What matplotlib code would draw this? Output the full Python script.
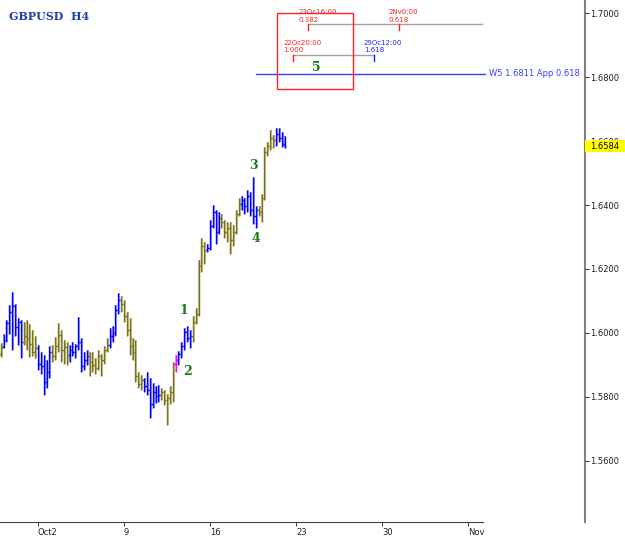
import matplotlib
matplotlib.use("Agg")
import matplotlib.pyplot as plt
from matplotlib.patches import Rectangle
from matplotlib.transforms import blended_transform_factory


# H4 bars, GBPUSD
OPENS = [
    1.5934, 1.5956, 1.5978, 1.6031, 1.6066, 1.6084, 1.6019, 1.6034, 1.5972, 1.5991,
    1.5984, 1.5966, 1.5941, 1.5953, 1.5903, 1.5897, 1.5847, 1.5878, 1.5941, 1.5928,
    1.5959, 1.5994, 1.5947, 1.5956, 1.5931, 1.5947, 1.5941, 1.5959, 1.5972, 1.5897,
    1.5916, 1.5928, 1.5909, 1.5900, 1.5891, 1.5928, 1.5916, 1.5947, 1.5962, 1.5991,
    1.6000, 1.6072, 1.6103, 1.6091, 1.6053, 1.6009, 1.5959, 1.5941, 1.5866, 1.5841,
    1.5853, 1.5834, 1.5822, 1.5778, 1.5816, 1.5803, 1.5806, 1.5816, 1.5791, 1.5797,
    1.5816, 1.5903, 1.5916, 1.5934, 1.5959, 1.6003, 1.5984, 1.5991, 1.6034, 1.6059,
    1.6209, 1.6272, 1.6259, 1.6266, 1.6334, 1.6378, 1.6316, 1.6359, 1.6347, 1.6316,
    1.6328, 1.6291, 1.6316, 1.6372, 1.6403, 1.6416, 1.6397, 1.6428, 1.6384, 1.6366,
    1.6384, 1.6378, 1.6422, 1.6566, 1.6584, 1.6609, 1.6603, 1.6622, 1.6609, 1.6591,
]
HIGHS = [
    1.5969, 1.5997, 1.6041, 1.6087, 1.6128, 1.6091, 1.6047, 1.6041, 1.6034, 1.6041,
    1.6028, 1.6009, 1.5991, 1.5962, 1.5941, 1.5931, 1.5916, 1.5959, 1.5962, 1.5987,
    1.6031, 1.6009, 1.5978, 1.5972, 1.5962, 1.5972, 1.5966, 1.6050, 1.5984, 1.5941,
    1.5947, 1.5941, 1.5941, 1.5922, 1.5947, 1.5934, 1.5959, 1.5984, 1.6016, 1.6022,
    1.6087, 1.6125, 1.6116, 1.6103, 1.6066, 1.6047, 1.5984, 1.5978, 1.5878, 1.5869,
    1.5859, 1.5878, 1.5859, 1.5844, 1.5834, 1.5837, 1.5828, 1.5822, 1.5809, 1.5834,
    1.5909, 1.5931, 1.5944, 1.5972, 1.6016, 1.6022, 1.6009, 1.6053, 1.6078, 1.6228,
    1.6297, 1.6284, 1.6278, 1.6353, 1.6400, 1.6384, 1.6378, 1.6372, 1.6353, 1.6347,
    1.6347, 1.6337, 1.6384, 1.6422, 1.6428, 1.6422, 1.6447, 1.6441, 1.6487, 1.6397,
    1.6397, 1.6434, 1.6581, 1.6597, 1.6634, 1.6619, 1.6641, 1.6641, 1.6628, 1.6616,
]
LOWS = [
    1.5925, 1.5953, 1.5972, 1.5997, 1.5947, 1.5991, 1.5962, 1.5922, 1.5962, 1.5947,
    1.5925, 1.5928, 1.5922, 1.5884, 1.5872, 1.5806, 1.5828, 1.5859, 1.5909, 1.5916,
    1.5941, 1.5909, 1.5903, 1.5900, 1.5909, 1.5928, 1.5922, 1.5947, 1.5878, 1.5884,
    1.5900, 1.5866, 1.5878, 1.5872, 1.5884, 1.5866, 1.5903, 1.5941, 1.5953, 1.5972,
    1.5991, 1.6059, 1.6066, 1.6034, 1.5991, 1.5931, 1.5916, 1.5847, 1.5828, 1.5822,
    1.5816, 1.5806, 1.5734, 1.5766, 1.5781, 1.5784, 1.5791, 1.5775, 1.5712, 1.5778,
    1.5784, 1.5878, 1.5900, 1.5922, 1.5947, 1.5972, 1.5953, 1.5972, 1.6028, 1.6053,
    1.6191, 1.6216, 1.6253, 1.6259, 1.6328, 1.6278, 1.6309, 1.6328, 1.6297, 1.6284,
    1.6247, 1.6272, 1.6309, 1.6366, 1.6384, 1.6372, 1.6378, 1.6366, 1.6341, 1.6328,
    1.6366, 1.6347, 1.6416, 1.6553, 1.6572, 1.6578, 1.6584, 1.6597, 1.6581, 1.6578,
]
CLOSES = [
    1.5956, 1.5978, 1.6031, 1.6066, 1.6084, 1.6019, 1.6034, 1.5972, 1.5991, 1.5984,
    1.5966, 1.5941, 1.5953, 1.5903, 1.5897, 1.5847, 1.5878, 1.5941, 1.5928, 1.5959,
    1.5994, 1.5947, 1.5956, 1.5931, 1.5947, 1.5941, 1.5959, 1.5972, 1.5897, 1.5916,
    1.5928, 1.5909, 1.5900, 1.5891, 1.5928, 1.5916, 1.5947, 1.5962, 1.5991, 1.6000,
    1.6072, 1.6103, 1.6091, 1.6053, 1.6009, 1.5959, 1.5941, 1.5866, 1.5841, 1.5853,
    1.5834, 1.5822, 1.5778, 1.5816, 1.5803, 1.5806, 1.5816, 1.5791, 1.5797, 1.5816,
    1.5903, 1.5916, 1.5934, 1.5959, 1.6003, 1.5984, 1.5991, 1.6034, 1.6059, 1.6209,
    1.6272, 1.6259, 1.6266, 1.6334, 1.6378, 1.6316, 1.6359, 1.6347, 1.6316, 1.6328,
    1.6291, 1.6316, 1.6372, 1.6403, 1.6416, 1.6397, 1.6428, 1.6384, 1.6366, 1.6384,
    1.6378, 1.6422, 1.6566, 1.6584, 1.6609, 1.6603, 1.6622, 1.6609, 1.6591, 1.6584,
]
# bar colour state: o = olive, b = blue, m = magenta
STATES = (
    "obbbbbbboo" "ooobbbbboo" "oooobbbbbb" "booooooobb" "bboooooooo"
    "bbbbbboooo" "ombbbbbooo" "oobbbbbooo" "oooobbbbbb" "oooooobbbb"
)

DATE_TICKS = [13, 43, 73, 103, 133, 163]
DATE_LABELS = ["Oct2", "9", "16", "23", "30", "Nov"]
PRICE_TICKS = [1.56, 1.58, 1.60, 1.62, 1.64, 1.66, 1.68, 1.70]
LAST_PRICE = 1.6584

WAVE_LABELS = ["1", "2", "3", "4", "5"]
WAVE_X = [63.9, 65.0, 88.0, 89.0, 110.0]
WAVE_Y = [1.6069, 1.5878, 1.6525, 1.6294, 1.6831]

W5_PRICE = 1.6811

DARK = {"b": "#0000ff", "o": "#7a7418", "m": "#ff00ff"}
LIGHT = {"b": "#8c8cff", "o": "#bfb88c", "m": "#ff8cff"}
GREEN = "#1d7a1d"


def draw_bars(ax):
    xs = list(range(len(OPENS)))
    light = [LIGHT[s] for s in STATES]
    dark = [DARK[s] for s in STATES]
    ax.vlines([x + 0.3 for x in xs], LOWS, HIGHS, colors=light, lw=1.3, zorder=2)
    ax.vlines(xs, LOWS, HIGHS, colors=dark, lw=1.0, zorder=3)
    ax.hlines(OPENS, [x - 0.5 for x in xs], xs, colors=dark, lw=1.0, zorder=3)
    ax.hlines(CLOSES, xs, [x + 0.5 for x in xs], colors=dark, lw=1.0, zorder=3)


def draw_fibo(ax):
    small = dict(fontsize=5.0, family="DejaVu Sans", va="center", ha="left")
    ax.add_patch(Rectangle((96.4, 1.6763), 26.5, 0.0237, fill=False,
                           ec="#ff2020", lw=1.0, zorder=4))
    ax.plot([107.2, 167.9], [1.6966, 1.6966], color="#a0a0a0", lw=1.0)
    ax.plot([107.2, 107.2], [1.6966, 1.6946], color="#ff2020", lw=1.0)
    ax.plot([138.9, 138.9], [1.6966, 1.6946], color="#ff2020", lw=1.0)
    ax.text(103.7, 1.7004, "23Oc16:00", color="#ff2020", **small)
    ax.text(103.7, 1.6980, "0.382", color="#ff2020", **small)
    ax.text(135.4, 1.7004, "2Nv0:00", color="#ff2020", **small)
    ax.text(135.4, 1.6980, "0.618", color="#ff2020", **small)

    ax.plot([102.0, 130.2], [1.6869, 1.6869], color="#a0a0a0", lw=1.0)
    ax.plot([102.0, 102.0], [1.6869, 1.6850], color="#ff2020", lw=1.0)
    ax.plot([130.2, 130.2], [1.6869, 1.6850], color="#2020ff", lw=1.0)
    ax.text(98.5, 1.6908, "22Oc20:00", color="#ff2020", **small)
    ax.text(98.5, 1.6884, "1.000", color="#ff2020", **small)
    ax.text(126.7, 1.6908, "29Oc12:00", color="#2020ff", **small)
    ax.text(126.7, 1.6884, "1.618", color="#2020ff", **small)

    ax.plot([89.0, 168.9], [W5_PRICE, W5_PRICE], color="#3c3cff", lw=1.0)
    ax.text(170.3, W5_PRICE, f"W5 {W5_PRICE:.4f} App 0.618", color="#3c3cff",
            fontsize=6, family="DejaVu Sans", va="center", ha="left")


def main():
    fig = plt.figure(figsize=(6.25, 5.39), dpi=100)
    fig.patch.set_facecolor("white")
    ax = fig.add_axes([0, 17 / 539, 585 / 625, 522 / 539])

    draw_bars(ax)
    draw_fibo(ax)

    for lab, x, y in zip(WAVE_LABELS, WAVE_X, WAVE_Y):
        ax.text(x, y, lab, color=GREEN, fontsize=9, fontweight="bold",
                family="DejaVu Serif", ha="center", va="center")

    ax.set_xlim(-0.25, 203.8)
    ax.set_ylim(1.5409, 1.7041)

    for side in ["top", "left"]:
        ax.spines[side].set_visible(False)
    ax.spines["right"].set_color("#808080")
    ax.spines["right"].set_linewidth(1.5)
    ax.spines["bottom"].set_color("#404040")
    ax.spines["bottom"].set_bounds(-0.25, 168.2)

    ax.yaxis.tick_right()
    ax.set_yticks(PRICE_TICKS)
    ax.set_yticklabels([f"{p:.4f}" for p in PRICE_TICKS])
    ax.set_xticks(DATE_TICKS)
    ax.set_xticklabels(DATE_LABELS)
    for lbl in ax.get_xticklabels():
        lbl.set_ha("left")
    ax.tick_params(axis="both", labelsize=6, length=3, width=0.8,
                   color="#404040", labelcolor="#202020", pad=1)

    # current price marker
    tr = blended_transform_factory(fig.transFigure, ax.transData)
    ax.add_patch(Rectangle((585 / 625, LAST_PRICE - 0.0019), 40 / 625, 0.0038,
                           transform=tr, fc="#ffff00", ec="none",
                           clip_on=False, zorder=10))
    ax.text(590 / 625, LAST_PRICE, f"{LAST_PRICE:.4f}", transform=tr, fontsize=6,
            color="black", va="center", ha="left", clip_on=False, zorder=11)

    fig.text(9 / 625, 1 - 16 / 539, "GBPUSD  H4", color="#2244aa", fontsize=8,
             fontweight="bold", family="DejaVu Serif", va="center", ha="left")

    fig.savefig("out.png", dpi=100, facecolor="white")


if __name__ == "__main__":
    main()
